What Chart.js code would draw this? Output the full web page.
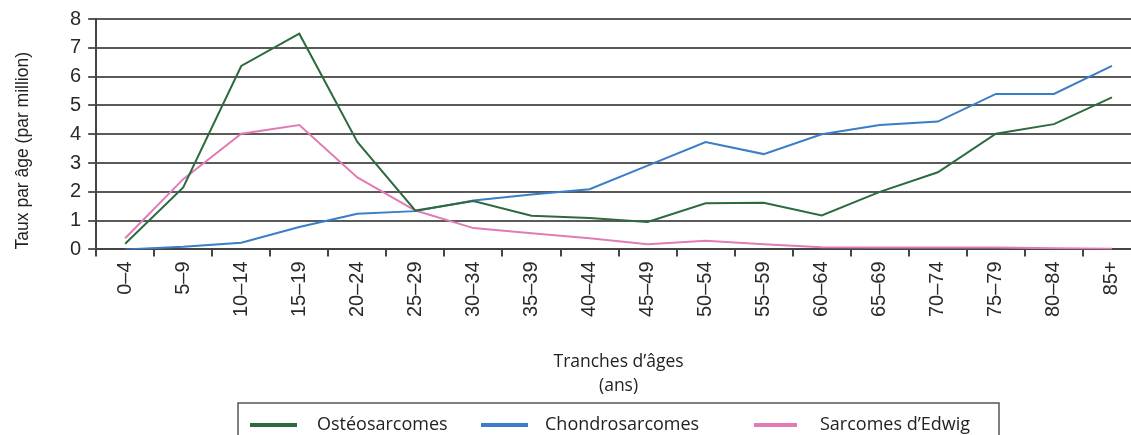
<!DOCTYPE html>
<html>
<head>
<meta charset="utf-8">
<script src="https://cdn.jsdelivr.net/npm/chart.js@4/dist/chart.umd.min.js"></script>
<style>
  html, body { margin: 0; padding: 0; background: #fff; overflow: hidden; }
  #wrap { width: 1150px; height: 435px; }
</style>
</head>
<body>
<div id="wrap"><canvas id="incidenceChart"></canvas></div>
<script>
const ageGroups = ['0–4', '5–9', '10–14', '15–19', '20–24', '25–29', '30–34', '35–39', '40–44',
                   '45–49', '50–54', '55–59', '60–64', '65–69', '70–74', '75–79', '80–84', '85+'];
const osteo   = [0.2, 2.15, 6.37, 7.49, 3.73, 1.35, 1.68, 1.17, 1.09, 0.95, 1.6, 1.62, 1.18, 2.0, 2.68, 4.02, 4.35, 5.28];
const chondro = [0.0, 0.09, 0.23, 0.78, 1.24, 1.33, 1.7, 1.91, 2.09, 2.91, 3.73, 3.31, 4.0, 4.32, 4.44, 5.4, 5.4, 6.37];
const ewing   = [0.39, 2.44, 4.02, 4.32, 2.5, 1.35, 0.74, 0.56, 0.39, 0.18, 0.3, 0.18, 0.08, 0.07, 0.07, 0.07, 0.04, 0.02];
const yTicks  = [0, 1, 2, 3, 4, 5, 6, 7, 8];

// legend drawn in a framed box, like the original figure
const boxLegend = {
    id: 'boxLegend',
    afterDraw(chart, args, opts) {
        const c = chart.ctx;
        c.save();
        c.strokeStyle = '#555';
        c.lineWidth = 1.5;
        c.strokeRect(opts.box[0], opts.box[1], opts.box[2], opts.box[3]);
        c.font = '18px "Open Sans"';
        c.textBaseline = 'middle';
        c.fillStyle = '#222';
        chart.data.datasets.forEach((ds, i) => {
            const s = opts.items[i];
            c.strokeStyle = ds.borderColor;
            c.lineWidth = 4;
            c.beginPath();
            c.moveTo(s[0], opts.y);
            c.lineTo(s[1], opts.y);
            c.stroke();
            c.fillText(ds.label, s[2], opts.y);
        });
        c.restore();
    }
};

const ctx = document.getElementById('incidenceChart');

new Chart(ctx, {
    type: 'line',
    data: {
        labels: ageGroups,
        datasets: [
            { label: 'Ostéosarcomes', data: osteo, borderColor: '#2d6a3e' },
            { label: 'Chondrosarcomes', data: chondro, borderColor: '#3b7dc6' },
            { label: 'Sarcomes d’Edwig', data: ewing, borderColor: '#e27bb5' }
        ]
    },
    options: {
        responsive: true,
        maintainAspectRatio: false,
        animation: false,
        elements: {
            line: { borderWidth: 2, tension: 0 },
            point: { radius: 0 }
        },
        layout: { padding: { top: 16, right: 9, bottom: 37, left: 13 } },
        plugins: {
            legend: { display: false },
            tooltip: { enabled: false },
            boxLegend: {
                box: [238, 403, 761, 50],
                y: 425,
                items: [[250, 297, 317], [481, 528, 545], [754, 797, 820]]
            }
        },
        scales: {
            x: {
                offset: true,
                border: { color: '#444', width: 2 },
                grid: { offset: true, drawOnChartArea: false, drawTicks: true, tickLength: 7, color: '#444', lineWidth: 2 },
                ticks: {
                    autoSkip: false,
                    minRotation: 90,
                    maxRotation: 90,
                    padding: 5,
                    color: '#2a2a2a',
                    font: { family: 'Liberation Sans', size: 20 }
                },
                title: {
                    display: true,
                    text: ['Tranches d’âges', '(ans)'],
                    color: '#222',
                    padding: { top: 28, bottom: 0 },
                    font: { family: 'Open Sans', size: 17.5, lineHeight: 1.37 }
                }
            },
            y: {
                min: 0,
                max: 8,
                afterBuildTicks(axis) { axis.ticks = yTicks.map(v => ({ value: v })); },
                border: { color: '#444', width: 2 },
                grid: { color: '#5a5a5a', lineWidth: 2, tickLength: 8 },
                ticks: {
                    padding: 7,
                    color: '#2a2a2a',
                    font: { family: 'Liberation Sans', size: 20 }
                },
                title: {
                    display: true,
                    text: 'Taux par âge (par million)',
                    align: 'start',
                    color: '#222',
                    padding: { top: 0, bottom: 29 },
                    font: { family: 'Liberation Sans', size: 17.5 }
                }
            }
        }
    },
    plugins: [boxLegend]
});
</script>
</body>
</html>
